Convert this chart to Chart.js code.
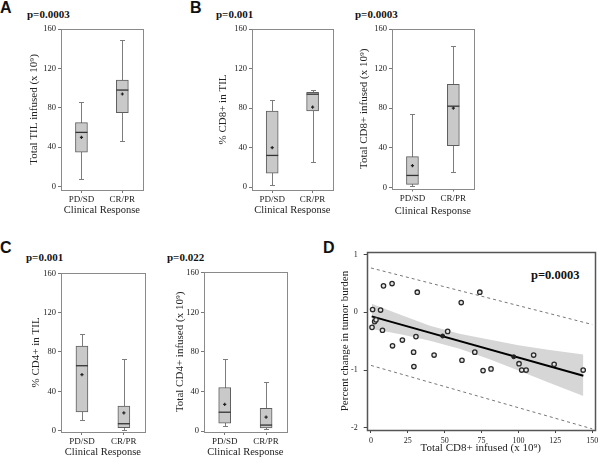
<!DOCTYPE html>
<html lang="en">
<head>
<meta charset="UTF-8">
<title>TIL subsets and clinical response</title>
<script src="https://cdn.jsdelivr.net/npm/chart.js@4.4.1/dist/chart.umd.min.js"></script>
<style>
    body { margin: 0; background: #fff; }
    #wrap { position: relative; width: 600px; height: 465px; overflow: hidden; }
    canvas { position: absolute; }
    .letter { position: absolute; font: bold 16px "Liberation Sans", Arial, sans-serif; line-height: 16px; color: #111; }
    .pval { position: absolute; font: bold 11px "Liberation Serif", "Times New Roman", serif; line-height: 11px; color: #111; white-space: nowrap; }
</style>
</head>
<body>
<div id="wrap">
    <div class="letter" style="left:0px;top:0px">A</div>
    <div class="letter" style="left:190px;top:0px">B</div>
    <div class="letter" style="left:0px;top:240px">C</div>
    <div class="letter" style="left:323px;top:240px">D</div>

    <div class="pval" style="left:27px;top:9px">p=0.0003</div>
    <div class="pval" style="left:216px;top:9px">p=0.001</div>
    <div class="pval" style="left:355px;top:9px">p=0.0003</div>
    <div class="pval" style="left:26px;top:252px">p=0.001</div>
    <div class="pval" style="left:167px;top:252px">p=0.022</div>
    <div class="pval" style="left:531px;top:269px;font-size:12.5px;line-height:12.5px">p=0.0003</div>
</div>

<script>
    const groups = ["PD/SD", "CR/PR"];
    const boxTicks = [0, 40, 80, 120, 160];

    // [min, Q1, median, Q3, max] for PD/SD, then CR/PR
    const tilTotal = [[8, 35, 55, 65, 86], [46, 75, 98, 108, 149]];
    const tilTotalMean = [50, 94];
    const cd8Pct = [[2, 14, 32, 77, 88], [25, 77, 94, 96, 98]];
    const cd8PctMean = [40, 81];
    const cd8Total = [[1, 3, 12, 31, 74], [15, 42, 82, 104, 143]];
    const cd8TotalMean = [22, 80];
    const cd4Pct = [[11, 19, 66, 86, 98], [1, 3, 7, 25, 73]];
    const cd4PctMean = [57, 18];
    const cd4Total = [[5, 8, 19, 44, 73], [2, 3, 6, 23, 50]];
    const cd4TotalMean = [27, 14];

    // panel D: CD8+ infused vs change in tumour burden
    const cd8Infused = [1.1, 0.7, 2.5, 3.4, 6.5, 7.8, 8.5, 14.3, 14.6, 21.3, 28.9, 29.1, 30.5, 31.4,
        42.8, 52, 61.2, 61.7, 70.4, 73.8, 76, 81.4, 100.4, 102.2, 105.2, 110.3, 124.2, 143.9];
    const tumorChange = [0.05, -0.26, -0.16, -0.13, 0.04, -0.31, 0.46, 0.5, -0.58, -0.48, -0.69, -0.94, -0.42, 0.35,
        -0.74, -0.33, 0.17, -0.83, -0.69, 0.35, -1.01, -0.98, -0.89, -1.0, -1.0, -0.74, -0.9, -1.0];
    const onLineX = [48.6, 96.8];
    const onLineY = [-0.41, -0.77];
    const fitX = [0.5, 144];
    const fitY = [-0.07, -1.1];
    const bandX = [0.5, 20, 40, 60, 80, 100, 120, 144];
    const bandUpper = [0.15, -0.04, -0.23, -0.37, -0.47, -0.57, -0.65, -0.73];
    const bandLower = [-0.29, -0.38, -0.49, -0.63, -0.81, -1.01, -1.21, -1.45];
    const predX = [0, 150];
    const predUpper = [0.77, -0.21];
    const predLower = [-0.92, -2.02];
    const dTicksX = [0, 25, 50, 75, 100, 125, 150];
    const dTicksY = [-2, -1, 0, 1];

    const serif = '"Liberation Serif", "Times New Roman", serif';
    const ink = "#222";

    function makeCanvas(id, L) {
        const c = document.createElement("canvas");
        c.id = id;
        c.width = L.w;
        c.height = L.h;
        c.style.left = L.left + "px";
        c.style.top = L.top + "px";
        document.getElementById("wrap").appendChild(c);
        return c;
    }

    // full rectangle round the plot area
    const framePlugin = {
        id: "frame",
        afterDraw(chart, args, opts) {
            const a = chart.chartArea;
            const ctx = chart.ctx;
            ctx.save();
            ctx.strokeStyle = opts.color || "#888";
            ctx.lineWidth = opts.width || 1;
            ctx.strokeRect(Math.round(a.left) + 0.5, Math.round(a.top) + 0.5,
                Math.round(a.right - a.left), Math.round(a.bottom - a.top));
            ctx.restore();
        }
    };

    // whiskers under the boxes, median lines on top
    const whiskerPlugin = {
        id: "whiskers",
        beforeDatasetsDraw(chart) {
            const stats = chart.data.datasets[0].stats;
            if (!stats) return;
            const meta = chart.getDatasetMeta(0);
            const y = chart.scales.y;
            const ctx = chart.ctx;
            ctx.save();
            ctx.strokeStyle = "#7c7c7c";
            ctx.lineWidth = 1;
            meta.data.forEach((bar, i) => {
                const s = stats[i];
                const x = Math.round(bar.x) + 0.5;
                const yLo = Math.round(y.getPixelForValue(s[0])) + 0.5;
                const yHi = Math.round(y.getPixelForValue(s[4])) + 0.5;
                ctx.beginPath();
                ctx.moveTo(x, yLo);
                ctx.lineTo(x, yHi);
                ctx.moveTo(x - 2.5, yLo);
                ctx.lineTo(x + 2.5, yLo);
                ctx.moveTo(x - 2.5, yHi);
                ctx.lineTo(x + 2.5, yHi);
                ctx.stroke();
            });
            ctx.restore();
        },
        afterDatasetDraw(chart, args) {
            if (args.index !== 0) return;
            const stats = chart.data.datasets[0].stats;
            if (!stats) return;
            const meta = chart.getDatasetMeta(0);
            const y = chart.scales.y;
            const ctx = chart.ctx;
            ctx.save();
            ctx.strokeStyle = "#333";
            ctx.lineWidth = 1.3;
            meta.data.forEach((bar, i) => {
                const ym = y.getPixelForValue(stats[i][2]);
                ctx.beginPath();
                ctx.moveTo(bar.x - bar.width / 2, ym);
                ctx.lineTo(bar.x + bar.width / 2, ym);
                ctx.stroke();
            });
            ctx.restore();
        }
    };

    function boxChart(id, stats, means, yTitle, L) {
        const canvas = makeCanvas(id, L);
        return new Chart(canvas, {
            type: "bar",
            data: {
                labels: groups,
                datasets: [
                    {
                        stats: stats,
                        data: stats.map(s => [s[1], s[3]]),
                        backgroundColor: "#c9c9c9",
                        borderColor: "#5e5e5e",
                        borderWidth: 1,
                        borderSkipped: false,
                        barThickness: 12,
                        order: 2
                    },
                    {
                        type: "line",
                        data: means,
                        showLine: false,
                        pointStyle: "cross",
                        pointRadius: 1.6,
                        borderColor: "#222",
                        borderWidth: 1.2,
                        order: 1
                    }
                ]
            },
            options: {
                responsive: false,
                animation: false,
                events: [],
                layout: { padding: { top: L.padTop, right: L.padRight, left: 0, bottom: 0 } },
                plugins: {
                    legend: { display: false },
                    tooltip: { enabled: false },
                    frame: { color: "#8a8a8a", width: 1 }
                },
                scales: {
                    x: {
                        grid: { display: true, drawOnChartArea: false, drawTicks: true, tickLength: 3, color: "#777", offset: false },
                        border: { display: false },
                        ticks: { color: ink, font: { family: serif, size: 9 }, padding: L.tickPad, maxRotation: 0 },
                        title: {
                            display: true, text: "Clinical Response", color: ink,
                            font: { family: serif, size: 10.5 }, padding: { top: 0, bottom: L.xTitlePad }
                        },
                        afterFit: s => { s.height = L.xHeight; s.paddingLeft = 0; s.paddingRight = 0; }
                    },
                    y: {
                        min: L.yMin,
                        max: L.yMax,
                        afterBuildTicks: s => { s.ticks = boxTicks.map(v => ({ value: v })); },
                        grid: { display: true, drawOnChartArea: false, drawTicks: true, tickLength: 3, color: "#777" },
                        border: { display: false },
                        ticks: { color: ink, font: { family: serif, size: 8.5 }, padding: 2 },
                        title: {
                            display: true, text: yTitle, color: ink,
                            font: { family: serif, size: 11 }, padding: { top: L.yTitlePad, bottom: 0 }
                        },
                        afterFit: s => { s.width = L.yWidth; s.paddingTop = 0; s.paddingBottom = 0; }
                    }
                }
            },
            plugins: [whiskerPlugin, framePlugin]
        });
    }

    const sup9 = "\u2079";

    boxChart("chartA", tilTotal, tilTotalMean, "Total TIL infused (x 10" + sup9 + ")",
        { left: 22, top: 20, w: 126, h: 200, padTop: 9, padRight: 4, yWidth: 39, xHeight: 30,
          yMin: -3.5, yMax: 160, tickPad: 1.5, xTitlePad: 3, yTitlePad: 6 });

    boxChart("chartB1", cd8Pct, cd8PctMean, "% CD8+ in TIL",
        { left: 212, top: 20, w: 126, h: 200, padTop: 9, padRight: 4, yWidth: 40, xHeight: 30,
          yMin: -3, yMax: 160, tickPad: 1.5, xTitlePad: 3, yTitlePad: 4.5 });

    boxChart("chartB2", cd8Total, cd8TotalMean, "Total CD8+ infused (x 10" + sup9 + ")",
        { left: 352, top: 20, w: 127, h: 200, padTop: 9, padRight: 4, yWidth: 40, xHeight: 31.5,
          yMin: -1.2, yMax: 160, tickPad: 1.5, xTitlePad: 2, yTitlePad: 5.4 });

    boxChart("chartC1", cd4Pct, cd4PctMean, "% CD4+ in TIL",
        { left: 22, top: 262, w: 128, h: 203, padTop: 10.7, padRight: 4, yWidth: 39, xHeight: 33,
          yMin: -1.4, yMax: 160.6, tickPad: 1, xTitlePad: 6, yTitlePad: 8 });

    boxChart("chartC2", cd4Total, cd4TotalMean, "Total CD4+ infused (x 10" + sup9 + ")",
        { left: 170, top: 262, w: 122, h: 203, padTop: 9.7, padRight: 4, yWidth: 34, xHeight: 33,
          yMin: -1, yMax: 161, tickPad: 1, xTitlePad: 6, yTitlePad: 3.4 });

    // panel D scatter with fit, confidence band and prediction limits
    const LD = { left: 333, top: 240, w: 267, h: 225 };
    const canvasD = makeCanvas("chartD", LD);
    const pts = (xs, ys) => xs.map((x, i) => ({ x: x, y: ys[i] }));

    new Chart(canvasD, {
        type: "scatter",
        data: {
            datasets: [
                {
                    data: pts(cd8Infused, tumorChange),
                    pointRadius: 2.2,
                    pointBorderWidth: 1.3,
                    pointBorderColor: "#2a2a2a",
                    pointBackgroundColor: "#e6e6e6"
                },
                {
                    data: pts(onLineX, onLineY),
                    pointRadius: 2,
                    pointBorderWidth: 1,
                    pointBorderColor: "#222",
                    pointBackgroundColor: "#222"
                },
                {
                    data: pts(fitX, fitY),
                    showLine: true,
                    pointRadius: 0,
                    borderColor: "#000",
                    borderWidth: 2
                },
                {
                    data: pts(predX, predUpper),
                    showLine: true,
                    pointRadius: 0,
                    borderColor: "#777",
                    borderWidth: 1,
                    borderDash: [3, 3]
                },
                {
                    data: pts(predX, predLower),
                    showLine: true,
                    pointRadius: 0,
                    borderColor: "#777",
                    borderWidth: 1,
                    borderDash: [3, 3]
                },
                {
                    data: pts(bandX, bandUpper),
                    showLine: true,
                    pointRadius: 0,
                    borderColor: "rgba(0,0,0,0)",
                    fill: "+1",
                    backgroundColor: "#d6d6d6"
                },
                {
                    data: pts(bandX, bandLower),
                    showLine: true,
                    pointRadius: 0,
                    borderColor: "rgba(0,0,0,0)",
                    fill: false
                }
            ]
        },
        options: {
            responsive: false,
            animation: false,
            events: [],
            layout: { padding: { top: 12, right: 3.3, left: 0, bottom: 0 } },
            plugins: {
                legend: { display: false },
                tooltip: { enabled: false },
                frame: { color: "#555", width: 1.5 }
            },
            scales: {
                x: {
                    type: "linear",
                    min: -2.9,
                    max: 151.7,
                    afterBuildTicks: s => { s.ticks = dTicksX.map(v => ({ value: v })); },
                    grid: { display: true, drawOnChartArea: false, drawTicks: true, tickLength: 3, color: "#444" },
                    border: { display: false },
                    ticks: { color: ink, font: { family: serif, size: 8 }, padding: 3.5, maxRotation: 0 },
                    title: {
                        display: true, text: "Total CD8+ infused (x 10" + sup9 + ")", color: ink,
                        font: { family: serif, size: 11 }, padding: { top: 0, bottom: 10 }
                    },
                    afterFit: s => { s.height = 35; s.paddingLeft = 0; s.paddingRight = 0; }
                },
                y: {
                    min: -2.04,
                    max: 1.047,
                    afterBuildTicks: s => { s.ticks = dTicksY.map(v => ({ value: v })); },
                    grid: { display: true, drawOnChartArea: false, drawTicks: true, tickLength: 3, color: "#444" },
                    border: { display: false },
                    ticks: { color: ink, font: { family: serif, size: 8 }, padding: 6 },
                    title: {
                        display: true, text: "Percent change in tumor burden", color: ink,
                        font: { family: serif, size: 11 }, padding: { top: 5.4, bottom: 0 }
                    },
                    afterFit: s => { s.width = 33.7; s.paddingTop = 0; s.paddingBottom = 0; }
                }
            }
        },
        plugins: [framePlugin]
    });
</script>
</body>
</html>
